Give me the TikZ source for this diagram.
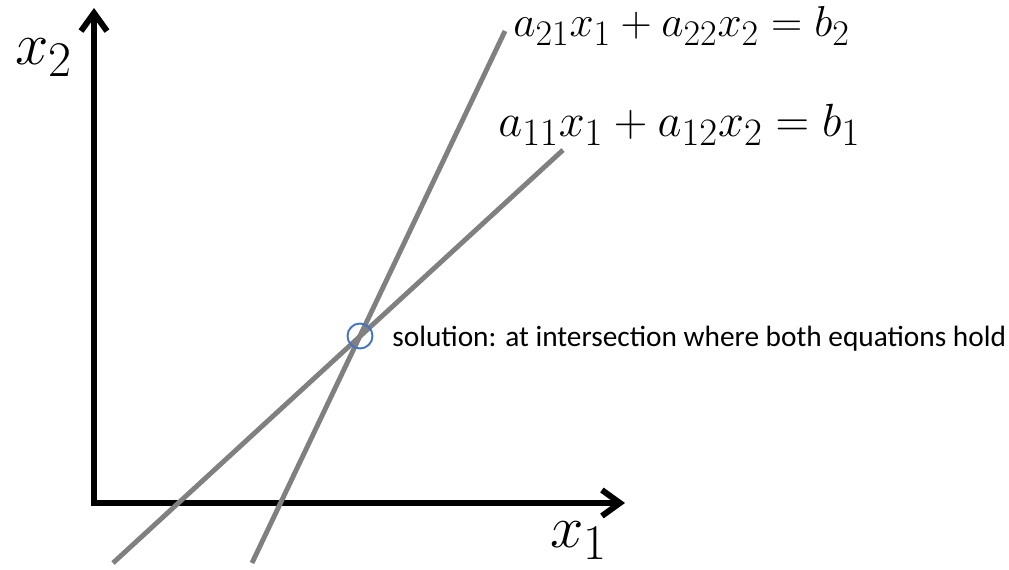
\documentclass[tikz,border=0pt]{standalone}
\usepackage{amsmath}
\usepackage{graphicx}
\usepackage{fontspec}
\usepackage{tikz}
\usetikzlibrary{arrows.meta,positioning}
\newfontfamily\calibri{Carlito}
\definecolor{linegray}{RGB}{128, 128, 128}
\definecolor{markblue}{RGB}{68, 114, 196}
\newcommand{\bigmath}[2]{\scalebox{#1}{$#2$}}

\begin{document}
\begin{tikzpicture}[
    x=0.02cm, y=-0.02cm,
    every node/.style={inner sep=0pt},
    axis/.style={line width=3.4pt, -{Straight Barb[length=3.6mm, width=5.2mm]}, line cap=rect},
    eqline/.style={line width=2.8pt, draw=linegray},
    mathlabel/.style={font=\fontsize{24.88}{30}\selectfont, anchor=base west},
    solmark/.style={circle, draw=markblue, line width=1.1pt, minimum size=0.5cm},
    note/.style={font=\calibri\fontsize{16.7}{20}\selectfont, anchor=base west}
]
\useasboundingbox (0,0) rectangle (1009,570);

% Axes
\coordinate (origin) at (94,503);
\coordinate (x1end) at (625,503);
\coordinate (x2end) at (94,8);
\draw[axis] (origin) -- (x1end);
\draw[axis] (origin) -- (x2end);
\node[mathlabel] (x2label) at (15,65) {\bigmath{1.37}{x_2}};
\node[mathlabel] (x1label) at (550,548) {\bigmath{1.37}{x_1}};

% Equation lines
\coordinate (eqone_start) at (113,563);
\coordinate (eqone_end) at (563,150);
\coordinate (eqtwo_start) at (252,563);
\coordinate (eqtwo_end) at (505,31);
\draw[eqline] (eqone_start) -- (eqone_end);
\draw[eqline] (eqtwo_start) -- (eqtwo_end);
\node[mathlabel] (eqtwo) at (513,37) {\bigmath{0.99}{a_{21}x_1 + a_{22}x_2 = b_2}};
\node[mathlabel] (eqone) at (498,137) {\bigmath{1.065}{a_{11}x_1 + a_{12}x_2 = b_1}};

% Solution
\node[solmark] (solution) at (360,336) {};
\node[note] (solnote) at (392,347) {solution: at intersection where both equations hold};

\end{tikzpicture}
\end{document}
